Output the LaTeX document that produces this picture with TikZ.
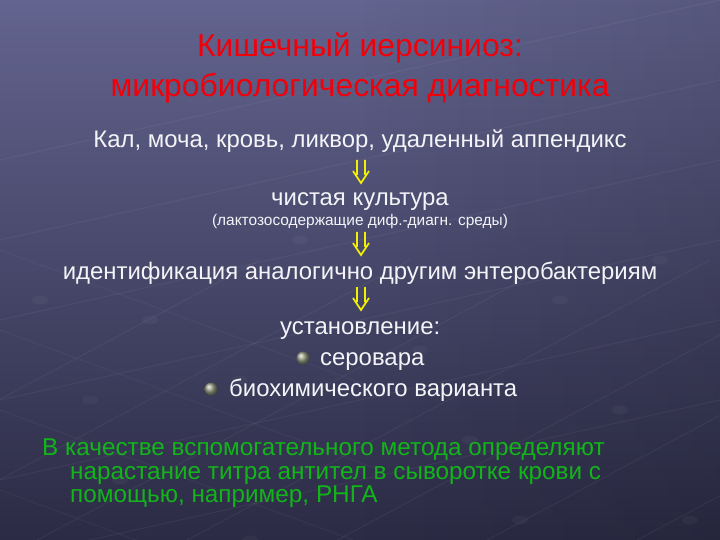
\documentclass[tikz,border=0pt]{standalone}
\usepackage{fontspec}
\setmainfont{Liberation Sans}
\usetikzlibrary{fadings}
\definecolor{bgtop}{HTML}{63648F}
\definecolor{bgbot}{HTML}{2B2B45}
\definecolor{titlered}{HTML}{F2000A}
\definecolor{txtgreen}{HTML}{12B41A}
\definecolor{txtwhite}{HTML}{F4F4F8}
\definecolor{arrowyel}{HTML}{F2F200}
\definecolor{ballgray}{HTML}{9AA088}
\tikzset{
  body/.style={anchor=base, text=txtwhite, font=\fontsize{24}{28}\selectfont, inner sep=0pt},
  small/.style={anchor=base, text=txtwhite, font=\fontsize{15.5}{18}\selectfont, inner sep=0pt},
  ttl/.style={anchor=base, text=titlered, font=\fontsize{32}{38}\selectfont, inner sep=0pt},
  grn/.style={anchor=base west, text=txtgreen, font=\fontsize{24.4}{28}\selectfont, inner sep=0pt},
  darrow/.style={minimum width=20bp, minimum height=24bp, inner sep=0pt},
  darrline/.style={arrowyel, line width=1.7bp, line join=miter},
  bul/.style={circle, minimum size=13bp, inner sep=0pt, ball color=ballgray, draw=none},
  gridln/.style={white, opacity=0.045, line width=1.2pt},
  griddot/.style={white, opacity=0.035},
}
\newcommand{\dblarrow}[1]{%
  \draw[darrline] ([xshift=-4bp,yshift=11bp]#1.center) -- ++(0,-15bp)
                  ([xshift=4bp,yshift=11bp]#1.center) -- ++(0,-15bp)
                  ([xshift=-8bp,yshift=0bp]#1.center) -- ([yshift=-12bp]#1.center) -- ([xshift=8bp,yshift=0bp]#1.center);}
\begin{document}
\begin{tikzpicture}[x=1bp, y=-1bp]
\useasboundingbox (0,0) rectangle (720,540);
% background
\shade[top color=bgtop, bottom color=bgbot] (0,0) rectangle (720,540);
\fill[black, opacity=0.12, path fading=west] (360,0) rectangle (720,540);
% faint perspective grid
\foreach \x in {-300,-150,0,150,300,450,600,750} {
  \draw[gridln] (\x,560) -- ++(560,-300);
}
\foreach \y in {160,240,320,400,480,560} {
  \draw[gridln] (0,\y) -- ++(720,-160);
}
\foreach \y in {250,330,410,490} {
  \draw[gridln, opacity=0.035] (0,\y) -- ++(380,140);
}
\foreach \p in {(40,300),(150,320),(300,240),(90,400),(240,380),(420,350),(560,300),(660,260),(120,480),(300,470),(470,440),(620,410),(690,520),(250,540),(520,520)} {
  \fill[griddot] \p ellipse (8 and 4.5);
}
% title
\node[ttl] (t1) at (360,57) {Кишечный иерсиниоз:};
\node[ttl] (t2) at (360,97) {микробиологическая диагностика};
% flow
\node[body] (src) at (360,148) {Кал, моча, кровь, ликвор, удаленный аппендикс};
\node[darrow] (a1) at (361,171) {};
\node[body] (cult) at (360,206) {чистая культура};
\node[small] (media) at (360,226) {(лактозосодержащие диф.-диагн. среды)};
\node[darrow] (a2) at (361,243) {};
\node[body] (ident) at (360,280) {идентификация аналогично другим энтеробактериям};
\node[darrow] (a3) at (361,298) {};
\dblarrow{a1}
\dblarrow{a2}
\dblarrow{a3}
\node[body, anchor=base west] (est) at (280,334) {установление:};
\node[bul] (b1) at (303,358) {};
\node[body, anchor=base west] (sero) at (320,365) {серовара};
\node[bul] (b2) at (211,389) {};
\node[body, anchor=base west] (bio) at (229,396) {биохимического варианта};
% green note
\node[grn] (g1) at (42,455) {В качестве вспомогательного метода определяют};
\node[grn] (g2) at (70,479) {нарастание титра антител в сыворотке крови с};
\node[grn] (g3) at (70,502) {помощью, например, РНГА};
\end{tikzpicture}
\end{document}
